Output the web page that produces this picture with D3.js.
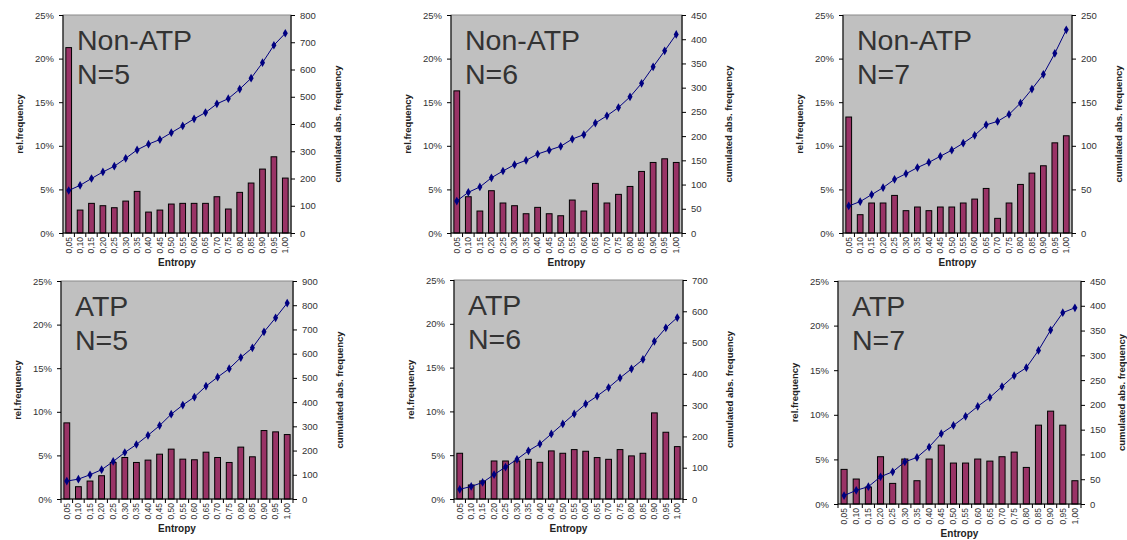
<!DOCTYPE html>
<html><head><meta charset="utf-8">
<script src="https://cdn.jsdelivr.net/npm/d3@7/dist/d3.min.js"></script>
<style>body{margin:0;background:#fff}svg{display:block}text{font-family:"Liberation Sans",Arial,sans-serif}</style>
</head><body><svg id="c" width="1127" height="540"></svg>
<script>
const categories = ["0,05","0,10","0,15","0,20","0,25","0,30","0,35","0,40","0,45","0,50","0,55","0,60","0,65","0,70","0,75","0,80","0,85","0,90","0,95","1,00"];
const leftTicks = [0, 0.05, 0.10, 0.15, 0.20, 0.25];

const titleLines = [["Non-ATP","N=5"],["Non-ATP","N=6"],["Non-ATP","N=7"],["ATP","N=5"],["ATP","N=6"],["ATP","N=7"]];
const rightMax = [800, 450, 250, 900, 700, 450];
const rightStep = [100, 50, 50, 100, 100, 50];

const relNonATP5 = [21.26,2.63,3.40,3.13,2.90,3.66,4.77,2.40,2.63,3.32,3.40,3.40,3.40,4.16,2.75,4.66,5.73,7.33,8.74,6.30];
const cumNonATP5 = [156,175,200,224,245,274,305,326,343,368,393,419,442,474,493,528,568,625,689,733];
const relNonATP6 = [16.3,4.16,2.52,4.85,3.44,3.13,2.21,2.94,2.21,1.98,3.78,2.52,5.69,3.44,4.43,5.34,7.06,8.09,8.51,8.09];
const cumNonATP6 = [66,84,95,114,128,141,150,163,171,179,194,203,227,242,259,281,309,343,376,410];
const relNonATP7 = [13.3,2.10,3.44,3.44,4.31,2.56,2.98,2.56,2.98,2.98,3.44,3.89,5.11,1.68,3.44,5.57,6.87,7.71,10.34,11.15];
const cumNonATP7 = [31,36,44,52,61.5,68,75,81,88,95,103,112,124,128,136,149,165,182,206,233];
const relATP5 = [8.73,1.41,2.06,2.67,4.19,4.76,4.19,4.46,5.14,5.72,4.57,4.50,5.37,4.76,4.19,5.95,4.84,7.85,7.70,7.39];
const cumATP5 = [74,82,100,121,155,192,225,263,303,350,388,421,466,503,538,584,624,690,748,809];
const relATP6 = [5.22,1.60,2.06,4.34,4.34,4.34,4.53,4.19,5.49,5.22,5.64,5.45,4.73,4.53,5.64,4.92,5.22,9.83,7.62,5.98];
const cumATP6 = [31,40,53,78,102,127,154,176,208,240,272,304,329,356,387,416,446,504,547,580];
const relATP7 = [3.88,2.80,1.90,5.30,2.31,5.04,2.61,5.04,6.60,4.59,4.59,5.04,4.81,5.30,5.82,4.10,8.84,10.41,8.84,2.61];
const cumATP7 = [17,27.5,35,55,65,85,94,115,142,158.5,177,197,215,237,259,275,310,351,386,396];

const relSeries = [relNonATP5, relNonATP6, relNonATP7, relATP5, relATP6, relATP7];
const cumSeries = [cumNonATP5, cumNonATP6, cumNonATP7, cumATP5, cumATP6, cumATP7];

// layout (plot area boxes)
const boxes = [
  {l:63, r:291, t:15, b:233},
  {l:451, r:682, t:15, b:233},
  {l:843, r:1072, t:15, b:233},
  {l:61, r:293, t:281, b:499},
  {l:454, r:683, t:280, b:499},
  {l:838, r:1081, t:281, b:504}
];

const svg = d3.select("#c");

boxes.forEach((bx, i) => {
  const g = svg.append("g");
  const x = d3.scaleBand().domain(categories).range([bx.l, bx.r]).paddingInner(0.5).paddingOuter(0.25);
  const xb = d3.scaleBand().domain(categories).range([bx.l, bx.r]);
  const yL = d3.scaleLinear().domain([0, 0.25]).range([bx.b, bx.t]);
  const yR = d3.scaleLinear().domain([0, rightMax[i]]).range([bx.b, bx.t]);

  g.append("rect").attr("x", bx.l).attr("y", bx.t).attr("width", bx.r - bx.l).attr("height", bx.b - bx.t)
    .attr("fill", "#c0c0c0").attr("stroke", "#8a8a8a").attr("stroke-width", 1);

  // title
  const tt = g.append("text").attr("x", bx.l + 14).attr("y", bx.t + 35)
    .attr("font-size", 28.5).attr("fill", "#333");
  titleLines[i].forEach((s, k) => tt.append("tspan").attr("x", bx.l + 14).attr("dy", k ? 34 : 0).text(s));

  // bars
  g.selectAll("rect.bar").data(relSeries[i]).join("rect").attr("class", "bar")
    .attr("x", (d, j) => x(categories[j]))
    .attr("width", x.bandwidth())
    .attr("y", d => yL(d / 100))
    .attr("height", d => bx.b - yL(d / 100))
    .attr("fill", "#993366").attr("stroke", "#000").attr("stroke-width", 1);

  // line
  const line = d3.line().x((d, j) => xb(categories[j]) + xb.bandwidth() / 2).y(d => yR(d));
  g.append("path").datum(cumSeries[i]).attr("d", line).attr("fill", "none").attr("stroke", "#000080").attr("stroke-width", 1);
  g.selectAll("path.mk").data(cumSeries[i]).join("path").attr("class", "mk")
    .attr("d", d3.symbol(d3.symbolDiamond, 22))
    .attr("transform", (d, j) => `translate(${xb(categories[j]) + xb.bandwidth() / 2},${yR(d)})`)
    .attr("fill", "#000080");

  // left axis
  const la = g.append("g").attr("transform", `translate(${bx.l},0)`)
    .call(d3.axisLeft(yL).tickValues(leftTicks).tickFormat(d3.format(".0%")).tickSize(4).tickPadding(5));
  la.select(".domain").attr("stroke", "#000").attr("d", `M0,${bx.t}V${bx.b}`);
  la.selectAll("text").attr("font-size", 9.5).attr("fill", "#333").attr("font-family", "Liberation Sans, Arial");

  // right axis
  const ra = g.append("g").attr("transform", `translate(${bx.r},0)`)
    .call(d3.axisRight(yR).tickValues(d3.range(0, rightMax[i] + 1, rightStep[i])).tickFormat(d3.format("d")).tickSize(4).tickPadding(5));
  ra.select(".domain").attr("stroke", "#333").attr("stroke-width", 1.5).attr("d", `M0,${bx.t}V${bx.b}`);
  ra.selectAll("text").attr("font-size", 9.5).attr("fill", "#333").attr("font-family", "Liberation Sans, Arial");

  // bottom axis
  const ba = g.append("g").attr("transform", `translate(0,${bx.b})`)
    .call(d3.axisBottom(xb).tickSize(0).tickPadding(0));
  ba.select(".domain").attr("stroke", "#000").attr("d", `M${bx.l},0H${bx.r}`);
  ba.selectAll("text").attr("font-size", 8.5).attr("fill", "#333").attr("font-family", "Liberation Sans, Arial")
    .attr("text-anchor", "end").attr("transform", "rotate(-90)").attr("x", -4).attr("y", 0).attr("dy", "0.33em");
  // boundary tick marks
  ba.selectAll("line.bt").data(categories.concat(["_end"])).join("line").attr("class", "bt")
    .attr("x1", (d, j) => bx.l + j * xb.step()).attr("x2", (d, j) => bx.l + j * xb.step())
    .attr("y1", 0).attr("y2", 4).attr("stroke", "#000");

  // axis titles
  g.append("text").attr("x", (bx.l + bx.r) / 2).attr("y", bx.b + 33).attr("text-anchor", "middle")
    .attr("font-size", 10).attr("font-weight", "bold").attr("fill", "#222").text("Entropy");
  g.append("text").attr("transform", `translate(${bx.l - 40},${(bx.t + bx.b) / 2}) rotate(-90)`)
    .attr("text-anchor", "middle").attr("font-size", 9.5).attr("font-weight", "bold").attr("fill", "#222").text("rel.frequency");
  const rx = Math.min(bx.r + 50, 1125);
  g.append("text").attr("transform", `translate(${rx},${(bx.t + bx.b) / 2}) rotate(-90)`)
    .attr("text-anchor", "middle").attr("font-size", 9.5).attr("font-weight", "bold").attr("fill", "#222").text("cumulated abs. frequency");
});
</script></body></html>
